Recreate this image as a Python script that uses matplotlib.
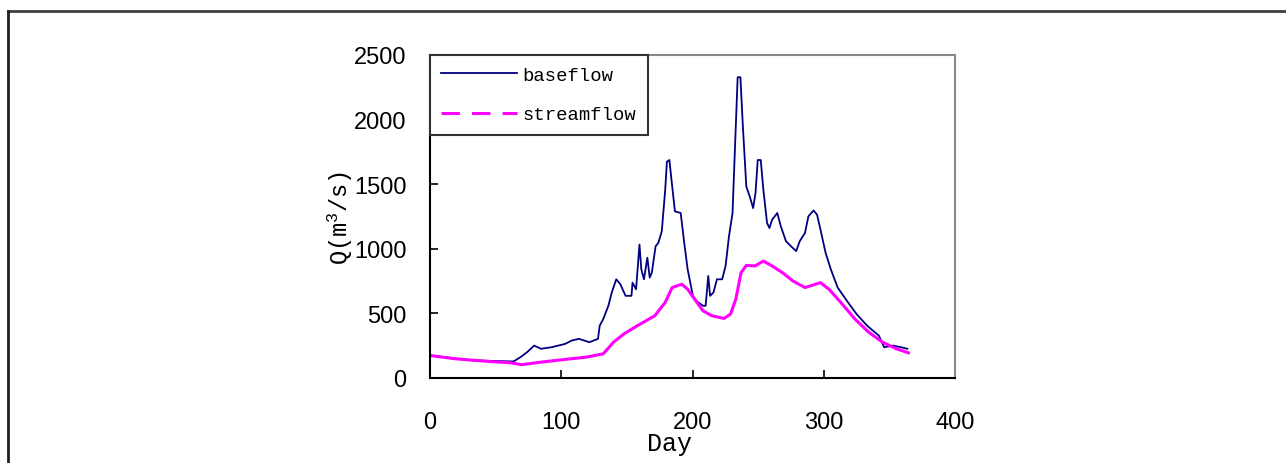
import matplotlib.pyplot as plt
from matplotlib.lines import Line2D

# values
base_day = [0, 32, 63.6, 68.9, 74, 79.4, 84.6, 92.5, 103, 108, 113.5, 121.4, 128,
            129.3, 132, 135.9, 138.5, 141.9, 145, 149, 153.5, 154.3, 157, 159.6,
            161, 163, 165.6, 167.4, 169, 171.9, 174, 176.6, 179.2, 180.5, 182.4,
            184, 186.6, 191, 193.7, 196.3, 200.3, 202.9, 208, 210, 212, 213.4, 216,
            218.6, 222.6, 225.2, 227.8, 230.5, 232.3, 234.4, 236.5, 238.4, 241,
            243.6, 246.2, 248, 249.7, 252, 254, 256.8, 258.6, 260.7, 264.6, 267.3,
            271.2, 275, 279, 281.7, 285.7, 288.3, 292.2, 294.9, 297.5, 301.4,
            305.4, 310.6, 318.5, 325, 333, 342, 346, 352.7, 359, 363.7]
base_q = [174, 136, 128, 161, 200, 251, 226, 238, 264, 290, 303, 277, 303,
          405, 456, 559, 662, 764, 726, 636, 636, 738, 687, 1033,
          841, 764, 931, 777, 815, 1020, 1046, 1136, 1456, 1674, 1687,
          1533, 1290, 1277, 1046, 841, 636, 597, 559, 559, 790, 636, 662,
          764, 764, 867, 1097, 1277, 1764, 2328, 2328, 1944, 1482,
          1405, 1315, 1431, 1687, 1687, 1456, 1200, 1161, 1226, 1277, 1174,
          1059, 1020, 982, 1059, 1123, 1251, 1297, 1264, 1149, 969,
          841, 700, 585, 495, 405, 328, 238, 251, 238, 226]

stream_day = [0, 19, 45, 61, 70, 84.6, 103, 118.8, 132, 139.8, 147.7, 158, 171.3,
              179.2, 184.5, 191.8, 196.3, 201.6, 208, 214.7, 224, 229, 233, 237,
              241, 247.6, 254, 260.7, 268.6, 276.5, 285.7, 297.5, 304, 313, 323.8,
              334.3, 344.8, 355.3, 364.5]
stream_q = [174, 149, 128, 118, 103, 123, 144, 161, 187, 277, 341, 405, 482,
            585, 700, 726, 687, 610, 520, 482, 461, 495, 610, 815,
            872, 867, 905, 867, 815, 751, 700, 738, 687, 585, 456,
            354, 277, 226, 195]

x_ticks = [0, 100, 200, 300, 400]
y_ticks = [0, 500, 1000, 1500, 2000, 2500]

mono = 'Liberation Mono'
sans = 'Liberation Sans'
plt.rcParams['mathtext.fontset'] = 'custom'
plt.rcParams['mathtext.rm'] = mono
plt.rcParams['mathtext.it'] = mono

fig = plt.figure(figsize=(12.86, 4.64), dpi=100)
ax = fig.add_axes([430/1286, 1-379/464, 525/1286, 323/464])

ax.plot(base_day, base_q, color='#000080', lw=1.3)
ax.plot(stream_day, stream_q, color='#ff00ff', lw=2.2)

ax.set_xlim(0, 400)
ax.set_ylim(0, 2500)
ax.set_xticks(x_ticks)
ax.set_yticks(y_ticks)
ax.tick_params(direction='in', length=6, width=1.2, labelsize=17)
ax.tick_params(axis='x', pad=24)
ax.tick_params(axis='y', pad=17)
for lab in ax.get_xticklabels() + ax.get_yticklabels():
    lab.set_fontfamily(sans)

for s in ['left', 'bottom']:
    ax.spines[s].set_color('black')
    ax.spines[s].set_linewidth(1.5)
for s in ['top', 'right']:
    ax.spines[s].set_color('#888888')
    ax.spines[s].set_linewidth(1.5)

ax.set_xlabel('Day', family=mono, fontsize=18)
ax.xaxis.set_label_coords(0.457, -0.165)
ax.set_ylabel(r'Q(m$^\mathrm{3}$/s)', family=mono, fontsize=17)
ax.yaxis.set_label_coords(-0.143, 0.5)

handles = [Line2D([], [], color='#000080', lw=1.3),
           Line2D([], [], color='#ff00ff', lw=2.2, dashes=(6, 4))]
leg = ax.legend(handles, ['baseflow', 'streamflow'], loc='upper left',
                borderaxespad=0, fancybox=False, framealpha=1,
                prop={'family': mono, 'size': 13.6}, handlelength=4.0,
                handletextpad=0.3, borderpad=0.6, labelspacing=1.2)
leg.get_frame().set_edgecolor('#333333')
leg.get_frame().set_linewidth(1.5)

# outer frame, cut off at the right and bottom of the picture
fig.add_artist(Line2D([8/1286, 1.0], [1-12/464, 1-12/464], color='#404040', lw=2))
fig.add_artist(Line2D([8/1286, 8/1286], [0.0, 1-12/464], color='#202020', lw=2))

fig.savefig('out.png', dpi=100)
